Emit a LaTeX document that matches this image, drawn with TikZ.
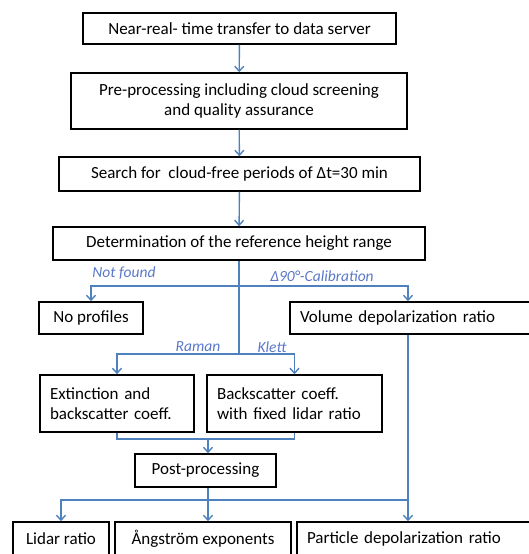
\documentclass[tikz,border=0pt]{standalone}
\usepackage{fontspec}
\setmainfont{Carlito}
\usepackage{xcolor}
\usepackage{tikz}
\usetikzlibrary{arrows.meta}

\definecolor{flowblue}{RGB}{79,129,189}
\definecolor{labelblue}{RGB}{90,120,200}

\begin{document}
\begin{tikzpicture}[x=1pt,y=-1pt,
    stepbox/.style={draw=black,line width=1.5pt,fill=white,inner sep=2pt,
      font=\fontsize{17}{19.5}\selectfont},
    flow/.style={draw=flowblue,line width=1.4pt},
    arr/.style={flow,-{Straight Barb[length=5pt,width=9pt,line width=1.4pt]}},
    branchlabel/.style={text=labelblue,font=\fontsize{15.5}{17}\selectfont\itshape}]
    \useasboundingbox (0,0) rectangle (529,554);
    % main chain
    \node[stepbox,minimum width=313,minimum height=31] (transfer) at (239.5,28.5)
      {Near-real- time transfer to data server};
    \node[stepbox,minimum width=336,minimum height=56,align=center] (preproc) at (239,101)
      {Pre-processing including cloud screening\\and quality assurance};
    \node[stepbox,minimum width=361,minimum height=34] (search) at (239.5,174)
      {Search for\ \ cloud-free periods of Δt=30 min};
    \node[stepbox,minimum width=372,minimum height=33] (refheight) at (239,243.5)
      {Determination of the reference height range};
    \draw[arr] (transfer) -- (preproc);
    \draw[arr] (preproc) -- (search);
    \draw[arr] (search) -- (refheight);
    % first branching
    \node[stepbox,minimum width=104,minimum height=32] (noprof) at (91,318) {No profiles};
    \node[stepbox,minimum width=244,minimum height=32,text width=224,align=left] (voldep) at (412,318)
      {Volume depolarization ratio};
    \coordinate (split1) at (239,286);
    \coordinate (split2) at (239,354);
    \draw[flow] (refheight) -- (split2);
    \draw[arr] (split1) -| (noprof);
    \draw[arr] (split1) -| (voldep.north -| 408,0);
    \node[branchlabel] (notfound) at (124,273) {Not found};
    \node[branchlabel] (calib) at (322,276) {Δ90°-Calibration};
    % second branching
    \node[stepbox,minimum width=154,minimum height=57,text width=134,align=left] (ext) at (117,403.5)
      {Extinction and\\backscatter coeff.};
    \node[stepbox,minimum width=175,minimum height=57,text width=155,align=left] (bsc) at (294.5,403.5)
      {Backscatter coeff.\\with fixed lidar ratio};
    \draw[arr] (split2) -| (ext);
    \draw[arr] (split2) -| (bsc);
    \node[branchlabel] (raman) at (198,347) {Raman};
    \node[branchlabel] (klett) at (272,347) {Klett};
    % merging
    \node[stepbox,minimum width=141,minimum height=33] (post) at (205.5,470.5) {Post-processing};
    \coordinate (merge) at (208,439);
    \draw[flow] (ext.south) |- (merge) -| (bsc.south);
    \draw[arr] (merge) -- (merge |- post.north);
    % final products
    \node[stepbox,minimum width=96,minimum height=34] (lidar) at (61,539) {Lidar ratio};
    \node[stepbox,minimum width=176,minimum height=34] (angstrom) at (203,539) {Ångström exponents};
    \node[stepbox,minimum width=236,minimum height=34,text width=216,align=left] (pardep) at (415,539)
      {Particle depolarization ratio};
    \coordinate (split3) at (208,500);
    \coordinate (joint) at (408,500);
    \draw[flow] (merge |- post.south) -- (split3);
    \draw[flow] (voldep.south -| joint) -- (joint);
    \draw[arr] (split3) -| (lidar);
    \draw[arr] (split3) -- (split3 |- angstrom.north);
    \draw[arr] (joint) -- (joint |- pardep.north);
    \draw[flow] (split3) -- (joint);
\end{tikzpicture}
\end{document}
